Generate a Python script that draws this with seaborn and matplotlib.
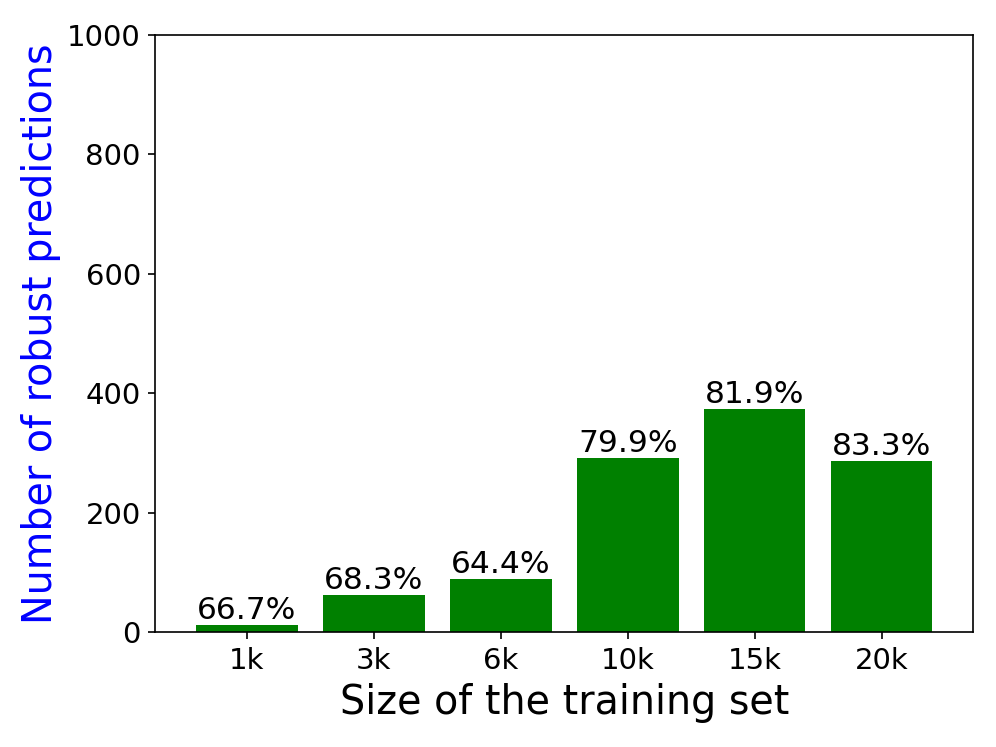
import matplotlib
matplotlib.use("Agg")
import matplotlib.pyplot as plt
import seaborn as sns
import pandas as pd

# values
sizes = ["1k", "3k", "6k", "10k", "15k", "20k"]
robust = [11, 62, 88, 292, 374, 286]
ratios = ["66.7%", "68.3%", "64.4%", "79.9%", "81.9%", "83.3%"]

df = pd.DataFrame({"size": sizes, "robust": robust})

fig, ax = plt.subplots(1, 1, figsize=(6.64, 4.98), dpi=150)
sns.barplot(data=df, x="size", y="robust", color="green", saturation=1, width=0.8, ax=ax)

for i, (v, r) in enumerate(zip(robust, ratios)):
    ax.text(i, v, r, ha="center", va="bottom", fontsize=15)

ax.set_xlim(-0.72, 5.72)
ax.set_ylim(0, 1000)
ax.set_xlabel("Size of the training set", fontsize=19, labelpad=4)
ax.set_ylabel("Number of robust predictions", fontsize=19, color="blue", labelpad=3)
ax.tick_params(axis="both", labelsize=14)
plt.subplots_adjust(left=0.156, right=0.977, top=0.953, bottom=0.154)
fig.savefig("out.png", dpi=150)
